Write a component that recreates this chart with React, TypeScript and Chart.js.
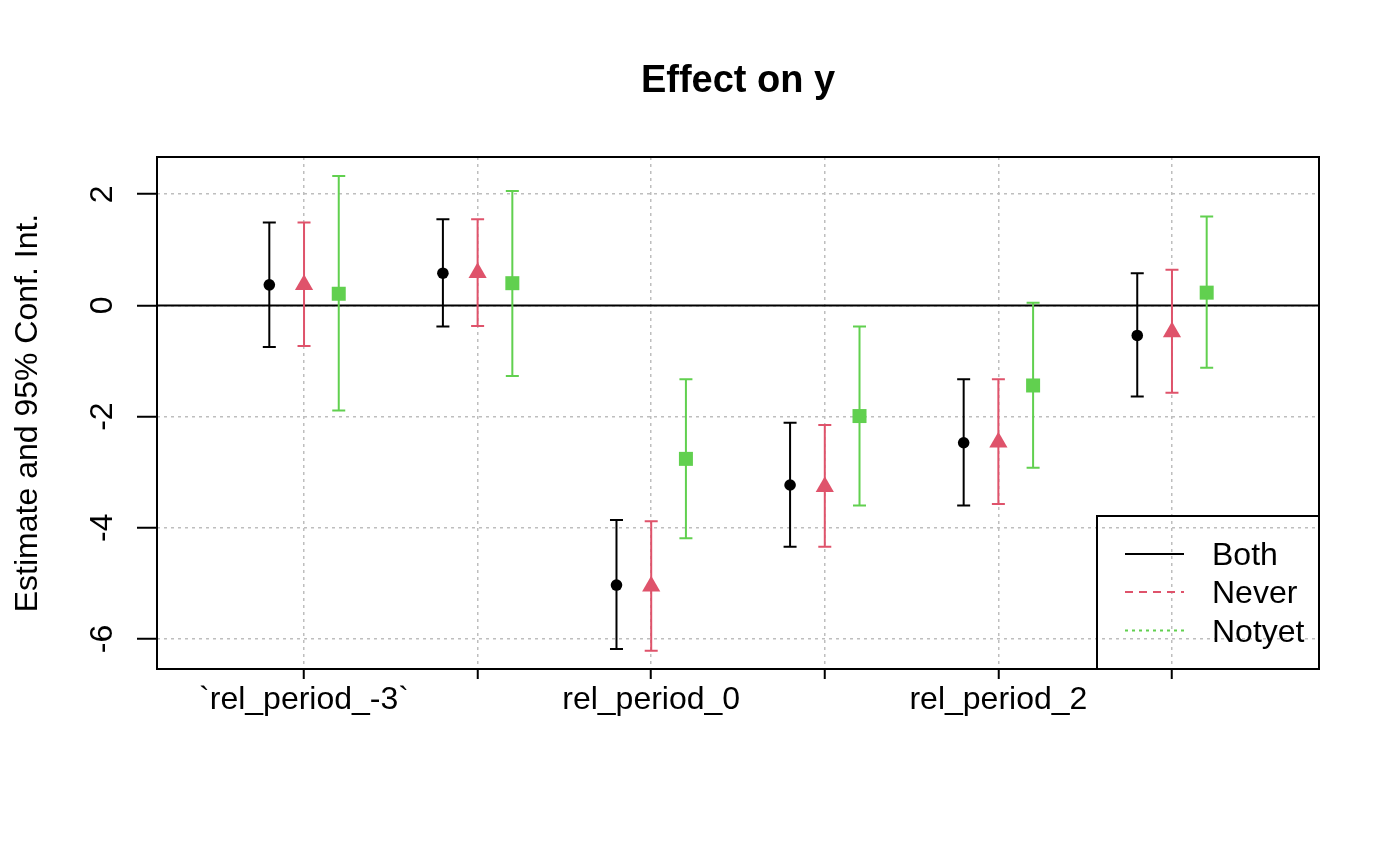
import { useEffect, useRef } from "react";
import { Chart, registerables } from "chart.js";

Chart.register(...registerables);

// ---------- data ----------
const categories = [
  "`rel_period_-3`",
  "`rel_period_-2`",
  "rel_period_0",
  "rel_period_1",
  "rel_period_2",
  "rel_period_3",
];
const seriesNames = ["Both", "Never", "Notyet"];
const seriesColors = ["#000000", "#DF536B", "#61D04F"];
const seriesDashes: number[][] = [[], [8, 6], [3, 4]];

const bothEst = [0.37, 0.58, -5.03, -3.23, -2.47, -0.54];
const bothLow = [-0.75, -0.38, -6.18, -4.34, -3.6, -1.64];
const bothHigh = [1.49, 1.55, -3.86, -2.11, -1.33, 0.58];

const neverEst = [0.37, 0.59, -5.05, -3.26, -2.46, -0.48];
const neverLow = [-0.73, -0.37, -6.21, -4.34, -3.57, -1.57];
const neverHigh = [1.49, 1.55, -3.88, -2.15, -1.33, 0.64];

const notyetEst = [0.21, 0.4, -2.76, -1.99, -1.44, 0.23];
const notyetLow = [-1.89, -1.27, -4.19, -3.6, -2.92, -1.12];
const notyetHigh = [2.33, 2.06, -1.33, -0.38, 0.05, 1.6];

const yTicks = [-6, -4, -2, 0, 2];
const xOffsets = [-0.2, 0, 0.2];
const yMin = -6.54;
const yMax = 2.67;
const xMin = 0.153;
const xMax = 6.847;

const chartTitle = "Effect on y";
const yAxisTitle = "Estimate and 95% Conf. Int.";

const estimates = [bothEst, neverEst, notyetEst];
const lows = [bothLow, neverLow, notyetLow];
const highs = [bothHigh, neverHigh, notyetHigh];
const pointStyles = ["circle", "triangle", "rect"];
const pointRadii = [5.8, 10.5, 9.9];

const FONT = "'Liberation Sans', Arial, Helvetica, sans-serif";
const GRID = "#BEBEBE";

const decorPlugin = {
  id: "coefDecor",
  beforeDatasetsDraw(chart: any) {
    const { ctx, chartArea, scales } = chart;
    const xs = scales.x;
    const ys = scales.y;
    ctx.save();
    // zero reference line
    ctx.strokeStyle = "#000";
    ctx.lineWidth = 2;
    ctx.setLineDash([]);
    const y0 = ys.getPixelForValue(0);
    ctx.beginPath();
    ctx.moveTo(chartArea.left, y0);
    ctx.lineTo(chartArea.right, y0);
    ctx.stroke();
    // error bars
    for (let s = 0; s < estimates.length; s++) {
      ctx.strokeStyle = seriesColors[s];
      ctx.lineWidth = 2;
      for (let i = 0; i < categories.length; i++) {
        const px = xs.getPixelForValue(i + 1 + xOffsets[s]);
        const pLo = ys.getPixelForValue(lows[s][i]);
        const pHi = ys.getPixelForValue(highs[s][i]);
        const cap = 6.5;
        ctx.beginPath();
        ctx.moveTo(px, pLo);
        ctx.lineTo(px, pHi);
        ctx.moveTo(px - cap, pLo);
        ctx.lineTo(px + cap, pLo);
        ctx.moveTo(px - cap, pHi);
        ctx.lineTo(px + cap, pHi);
        ctx.stroke();
      }
    }
    ctx.restore();
  },
  afterDraw(chart: any) {
    const { ctx, chartArea, scales } = chart;
    const ys = scales.y;
    const L = chartArea.left;
    const R = chartArea.right;
    const T = chartArea.top;
    const B = chartArea.bottom;
    ctx.save();
    ctx.setLineDash([]);
    // plot box
    ctx.strokeStyle = "#000";
    ctx.lineWidth = 2;
    ctx.strokeRect(L, T, R - L, B - T);

    // title
    ctx.fillStyle = "#000";
    ctx.font = `bold 38px ${FONT}`;
    ctx.textAlign = "center";
    ctx.textBaseline = "alphabetic";
    ctx.fillText(chartTitle, (L + R) / 2, 92);

    // y tick labels (rotated, R style)
    ctx.font = `32px ${FONT}`;
    for (const v of yTicks) {
      const py = ys.getPixelForValue(v);
      ctx.save();
      ctx.translate(L - 45, py);
      ctx.rotate(-Math.PI / 2);
      ctx.textAlign = "center";
      ctx.fillText(String(v), 0, 0);
      ctx.restore();
    }
    // y axis title
    ctx.save();
    ctx.translate(37, (T + B) / 2);
    ctx.rotate(-Math.PI / 2);
    ctx.textAlign = "center";
    ctx.fillText(yAxisTitle, 0, 0);
    ctx.restore();

    // legend
    const bw = 222;
    const bh = 153;
    ctx.lineWidth = 2;
    ctx.strokeStyle = "#000";
    ctx.strokeRect(R - bw, B - bh, bw, bh);
    const rows = [B - 115, B - 77, B - 38.5];
    ctx.textAlign = "left";
    for (let s = 0; s < seriesNames.length; s++) {
      ctx.strokeStyle = seriesColors[s];
      ctx.setLineDash(seriesDashes[s]);
      ctx.lineWidth = 2;
      ctx.beginPath();
      ctx.moveTo(R - 194, rows[s]);
      ctx.lineTo(R - 135, rows[s]);
      ctx.stroke();
      ctx.setLineDash([]);
      ctx.fillStyle = "#000";
      ctx.fillText(seriesNames[s], R - 107, rows[s] + 11);
    }
    ctx.restore();
  },
};

export default function App() {
  const ref = useRef<HTMLCanvasElement | null>(null);

  useEffect(() => {
    if (!ref.current) return;
    const datasets = seriesNames.map((name, s) => ({
      label: name,
      data: estimates[s].map((v, i) => ({ x: i + 1 + xOffsets[s], y: v })),
      pointStyle: pointStyles[s],
      pointRadius: pointRadii[s],
      backgroundColor: seriesColors[s],
      borderColor: seriesColors[s],
      borderWidth: 0,
      showLine: false,
    }));

    const chart = new Chart(ref.current, {
      type: "scatter",
      data: { datasets } as any,
      plugins: [decorPlugin],
      options: {
        animation: false,
        responsive: false,
        devicePixelRatio: 1,
        events: [],
        layout: { padding: { top: 157, right: 81, left: 0, bottom: 0 } },
        plugins: {
          legend: { display: false },
          title: { display: false },
          tooltip: { enabled: false },
        },
        scales: {
          x: {
            type: "linear",
            min: xMin,
            max: xMax,
            afterBuildTicks: (scale: any) => {
              scale.ticks = categories.map((_, i) => ({ value: i + 1 }));
            },
            afterFit: (scale: any) => {
              scale.height = 196;
            },
            ticks: {
              autoSkip: false,
              maxRotation: 0,
              minRotation: 0,
              padding: 2,
              color: "#000",
              font: { family: FONT, size: 32 },
              callback: (_v: any, index: number) =>
                index % 2 === 0 ? categories[index] : "",
            },
            grid: {
              color: GRID,
              lineWidth: 1.5,
              tickLength: 10,
              tickColor: "#000",
              tickWidth: 2,
              tickBorderDash: [1, 0],
              borderDash: [3, 4],
            } as any,
            border: { display: false, dash: [3, 4] },
          },
          y: {
            type: "linear",
            min: yMin,
            max: yMax,
            afterBuildTicks: (scale: any) => {
              scale.ticks = yTicks.map((v) => ({ value: v }));
            },
            afterFit: (scale: any) => {
              scale.width = 157;
            },
            ticks: { display: false },
            grid: {
              color: GRID,
              lineWidth: 1.5,
              tickLength: 20,
              tickColor: "#000",
              tickWidth: 2,
              tickBorderDash: [1, 0],
              borderDash: [3, 4],
            } as any,
            border: { display: false, dash: [3, 4] },
          },
        },
      } as any,
    });
    return () => chart.destroy();
  }, []);

  return (
    <div
      style={{
        position: "fixed",
        left: 0,
        top: 0,
        width: 1400,
        height: 865,
        background: "#fff",
      }}
    >
      <canvas
        ref={ref}
        width={1400}
        height={865}
        style={{ display: "block", width: 1400, height: 865 }}
      />
    </div>
  );
}
